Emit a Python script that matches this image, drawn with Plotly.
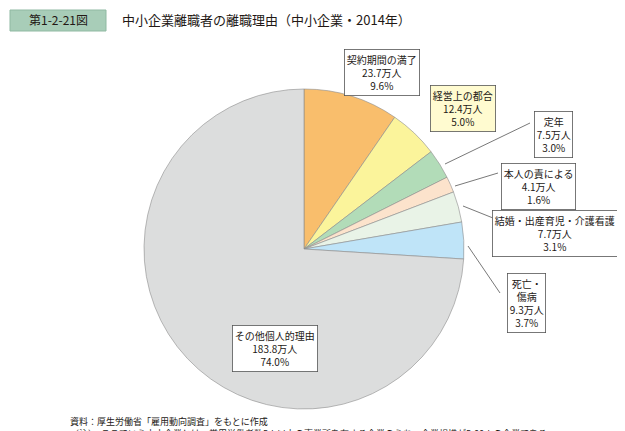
import plotly.graph_objects as go

labels = ["契約期間の満了", "経営上の都合", "定年", "本人の責による", "結婚・出産育児・介護看護", "死亡・傷病", "その他個人的理由"]
values_man = [23.7, 12.4, 7.5, 4.1, 7.7, 9.3, 183.8]
shares = [9.6, 5.0, 3.0, 1.6, 3.1, 3.7, 74.0]
colors = ["#F9BE6C", "#FBF49B", "#B2DCB8", "#FCE3CC", "#E9F3E7", "#BFE4F8", "#DCDDDD"]
box_text = ["契約期間の満了", "経営上の都合", "定年", "本人の責による", "結婚・出産育児・介護看護", "死亡・<br>傷病", "その他個人的理由"]

W, H = 625, 431
def px(x): return x / W
def py(y): return 1 - y / H

fig = go.Figure(go.Pie(
    values=shares, labels=labels, sort=False, direction="clockwise", rotation=0,
    marker=dict(colors=colors, line=dict(color="#8c8c8c", width=0.6)),
    textinfo="none", hoverinfo="label+value", showlegend=False,
    domain=dict(x=[px(136), px(456)], y=[py(401), py(81)]),
))

font = "Noto Sans CJK JP"
pos = [
    (374, 65, "white", None),
    (455, 100, "#FFFBD0", None),
    (545, 126, "white", ((437, 156), (522, 115))),
    (530, 178, "white", ((447, 178), (490, 165))),
    (547, 225, "white", ((455, 198), (490, 212))),
    (518, 295, "white", ((460, 238), (492, 285))),
    (267, 340, "white", None),
]
anns = []
shapes = []
for i in range(len(labels)):
    cx, cy, bg, ln = pos[i]
    anns.append(dict(
        x=px(cx), y=py(cy), xref="paper", yref="paper", showarrow=False,
        xanchor="center", yanchor="middle",
        text=f"{box_text[i]}<br>{values_man[i]}万人<br>{shares[i]}%",
        font=dict(family=font, size=10, color="#231815"),
        bgcolor=bg, bordercolor="#555555", borderwidth=0.8, borderpad=2, align="center"))
    if ln:
        shapes.append(dict(type="line", xref="paper", yref="paper",
                           x0=px(ln[0][0]), y0=py(ln[0][1]), x1=px(ln[1][0]), y1=py(ln[1][1]),
                           line=dict(color="#555555", width=0.8)))

shapes.append(dict(type="rect", xref="paper", yref="paper", x0=px(2), y0=py(23), x1=px(98), y1=py(2),
                   fillcolor="#A8CDB8", line=dict(color="#8fb9a2", width=1)))
anns.append(dict(x=px(50), y=py(12), xref="paper", yref="paper", showarrow=False,
                 xanchor="center", yanchor="middle",
                 text="第1-2-21図", font=dict(family=font, size=12, color="#231815")))
anns.append(dict(x=px(112), y=py(12), xref="paper", yref="paper", showarrow=False,
                 xanchor="left", yanchor="middle",
                 text="中小企業離職者の離職理由（中小企業・2014年）", font=dict(family=font, size=13, color="#231815")))
anns.append(dict(x=px(60), y=py(405), xref="paper", yref="paper", showarrow=False, xanchor="left", yanchor="top",
                 align="left",
                 text="資料：厚生労働省「雇用動向調査」をもとに作成<br>（注）  ここでいう中小企業とは、常用労働者数5人以上の事業所を有する企業のうち、企業規模が5-99人の企業である。",
                 font=dict(family=font, size=9, color="#231815")))

fig.update_layout(width=W, height=H, margin=dict(l=0, r=0, t=0, b=0),
                  paper_bgcolor="white", annotations=anns, shapes=shapes)
fig.write_html("out.html")
